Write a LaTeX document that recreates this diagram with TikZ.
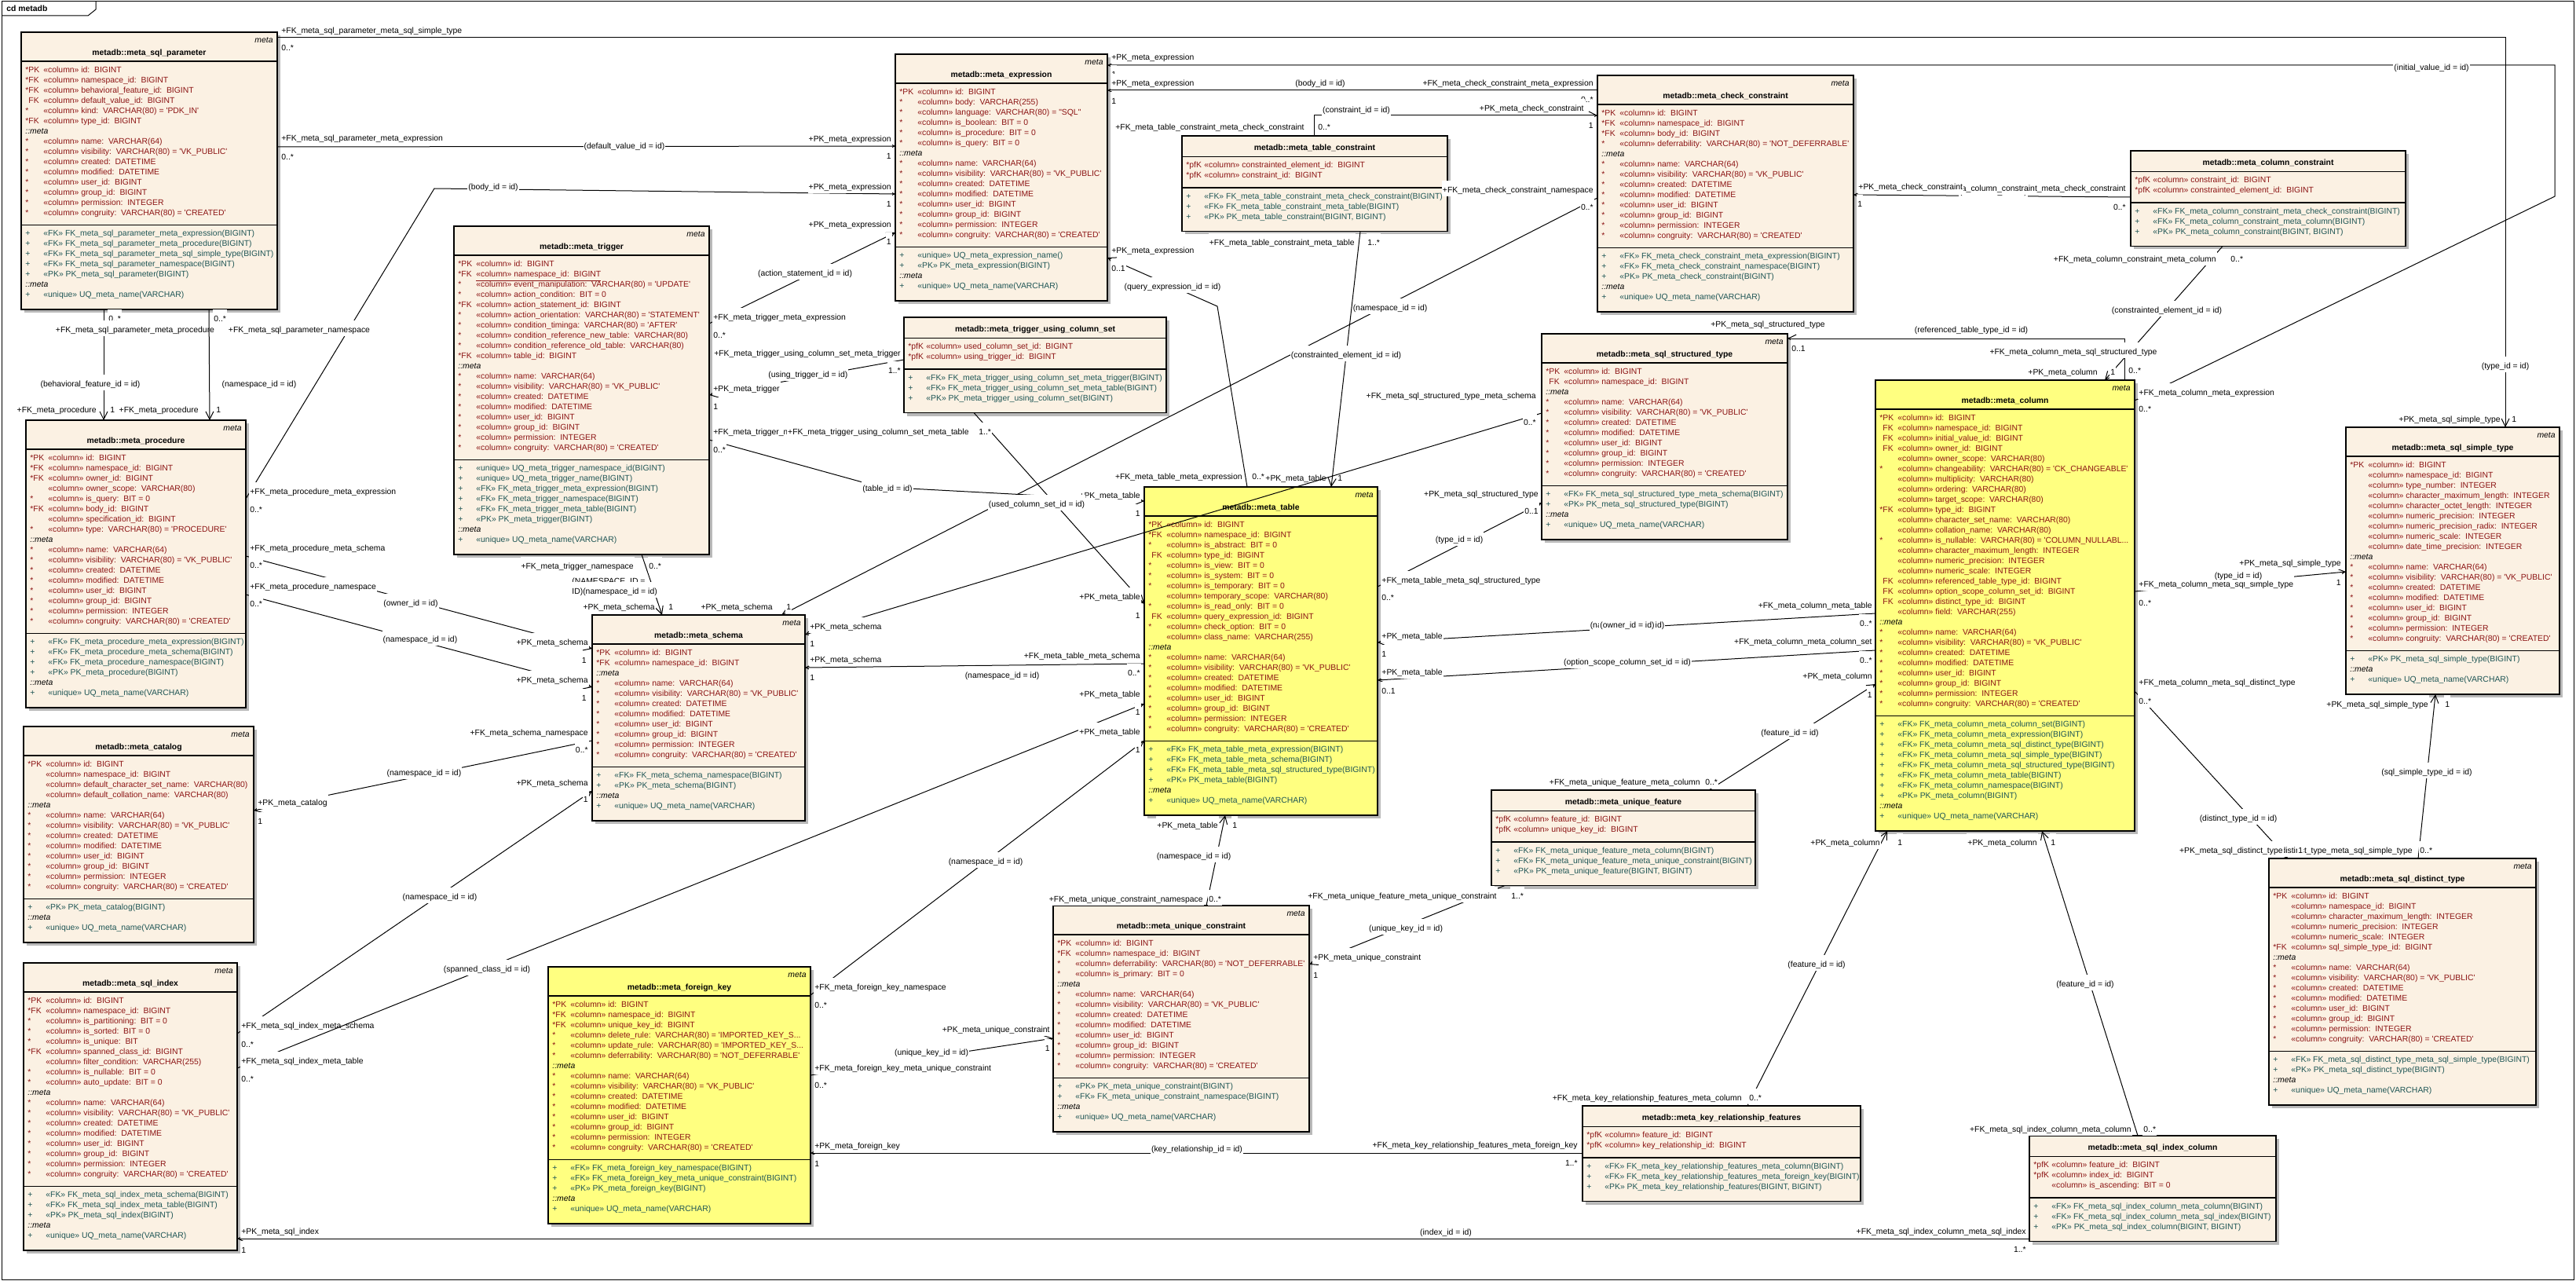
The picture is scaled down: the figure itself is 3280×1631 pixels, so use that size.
\documentclass[tikz,border=0pt]{standalone}
\usepackage{fontspec}
\newfontfamily\dgfont{Liberation Sans}
\usetikzlibrary{arrows.meta}
\pgfdeclarelayer{bg}
\pgfsetlayers{bg,main}
\definecolor{attrc}{RGB}{140,20,20}
\definecolor{methc}{RGB}{30,85,85}
\definecolor{beige}{RGB}{251,241,227}
\definecolor{ylw}{RGB}{255,255,128}
\definecolor{shad}{RGB}{185,185,185}
\newcounter{nn}
\newcommand\ff{\dgfont\fontsize{5.2pt}{6pt}\selectfont}
\tikzset{
 autoname/.code={\stepcounter{nn}\pgfkeysalso{name=nd\arabic{nn}}},
 rowA/.style={autoname,font=\ff, text=attrc, inner sep=0pt, anchor=base west},
 rowM/.style={autoname,font=\ff, text=methc, inner sep=0pt, anchor=base west},
 rowI/.style={autoname,font=\ff\itshape, inner sep=0pt, anchor=base west},
 ttl/.style={autoname,font=\ff\bfseries, inner sep=0pt, anchor=base},
 stereo/.style={autoname,font=\ff\itshape, inner sep=0pt, anchor=base east},
 boxline/.style={line width=0.6pt},
 conn/.style={line width=0.5pt, -{Straight Barb[length=5pt,width=5pt]}},
 lab/.style={autoname,font=\ff, inner sep=0.5pt, fill=white, text height=0.72em, text depth=0.2em},
}
\catcode`\_=12
\newcommand\BB[6]{%
 \xdef\bX{#1}\xdef\bY{#2}\xdef\bW{#3}\xdef\bF{#4}%
 \ifnum#5=1\relax
  \node[stereo] at ({#1+#3-5},{#2+13.7}) {meta};
  \node[ttl] at ({#1+#3/2},{#2+29.7}) {metadb::#6};
  \pgfmathsetmacro\tmp{#2+37}%
 \else
  \node[ttl] at ({#1+#3/2},{#2+18.7}) {metadb::#6};
  \pgfmathsetmacro\tmp{#2+26.5}%
 \fi
 \xdef\hY{\tmp}%
 \draw[boxline] (#1,\hY) -- ({#1+#3},\hY);
 \pgfmathsetmacro\tmp{\hY+10.5}\xdef\cY{\tmp}%
}
\newcommand\A[2]{%
 \node[rowA] at ({\bX+5},{\cY+3.7}) {#1};
 \node[rowA] at ({\bX+28},{\cY+3.7}) {#2};
 \pgfmathsetmacro\tmp{\cY+13}\xdef\cY{\tmp}}
\newcommand\Mth[2]{%
 \node[rowM] at ({\bX+5},{\cY+3.7}) {#1};
 \node[rowM] at ({\bX+28},{\cY+3.7}) {#2};
 \pgfmathsetmacro\tmp{\cY+13}\xdef\cY{\tmp}}
\newcommand\MT{%
 \node[rowI] at ({\bX+5},{\cY+3.7}) {::meta};
 \pgfmathsetmacro\tmp{\cY+13}\xdef\cY{\tmp}}
\newcommand\SEP{%
 \pgfmathsetmacro\tmp{\cY+3}\xdef\sY{\tmp}%
 \draw[boxline] (\bX,\sY) -- ({\bX+\bW},\sY);
 \pgfmathsetmacro\tmp{\sY+10.5}\xdef\cY{\tmp}}
\newcommand\BE[2][0]{%
 \pgfmathsetmacro\tmp{\cY+6+#1}\xdef\bB{\tmp}%
 \pgfmathsetmacro\tmpw{\bW*0.5}\pgfmathsetmacro\tmph{(\bB-\bY)*0.5}%
 \begin{pgfonlayer}{bg}
 \fill[shad] ({\bX+4},{\bY+4}) rectangle ({\bX+\bW+4},{\bB+4});
 \node[draw, line width=0.6pt, fill=\bF, anchor=north west, inner sep=0pt, outer sep=0pt, minimum width=\tmpw pt, minimum height=\tmph pt] (#2) at (\bX,\bY) {};
 \end{pgfonlayer}}
\newcommand\MB{\MT
 \A{*}{«column» name:~~VARCHAR(64)}
 \A{*}{«column» visibility:~~VARCHAR(80) = 'VK_PUBLIC'}
 \A{*}{«column» created:~~DATETIME}
 \A{*}{«column» modified:~~DATETIME}
 \A{*}{«column» user_id:~~BIGINT}
 \A{*}{«column» group_id:~~BIGINT}
 \A{*}{«column» permission:~~INTEGER}
 \A{*}{«column» congruity:~~VARCHAR(80) = 'CREATED'}}
\newcommand\UQ{\MT\Mth{+}{«unique» UQ_meta_name(VARCHAR)}}
\newcommand\LL[4][center]{\node[lab, anchor=#1] at (#2,#3) {#4};}
\newcommand\nf{\phantom{*}FK}
\begin{document}
\begin{tikzpicture}[x=0.5pt,y=-0.5pt]
\useasboundingbox (0,0) rectangle (3280,1631);
\begin{pgfonlayer}{bg}
\fill[white] (0,0) rectangle (3280,1631);
\end{pgfonlayer}
\draw[line width=0.5pt] (2,2) rectangle (3277,1629);
\draw[line width=0.5pt] (2,20) -- (112,20) -- (122,12) -- (122,2);
\node[autoname,font=\ff\bfseries, anchor=base west, inner sep=0pt] at (8,15) {cd metadb};

% ---------- boxes ----------
\BB{27}{41}{326}{beige}{1}{meta_sql_parameter}
\A{*PK}{«column» id:~~BIGINT}
\A{*FK}{«column» namespace_id:~~BIGINT}
\A{*FK}{«column» behavioral_feature_id:~~BIGINT}
\A{\nf}{«column» default_value_id:~~BIGINT}
\A{*}{«column» kind:~~VARCHAR(80) = 'PDK_IN'}
\A{*FK}{«column» type_id:~~BIGINT}
\MB\SEP
\Mth{+}{«FK» FK_meta_sql_parameter_meta_expression(BIGINT)}
\Mth{+}{«FK» FK_meta_sql_parameter_meta_procedure(BIGINT)}
\Mth{+}{«FK» FK_meta_sql_parameter_meta_sql_simple_type(BIGINT)}
\Mth{+}{«FK» FK_meta_sql_parameter_namespace(BIGINT)}
\Mth{+}{«PK» PK_meta_sql_parameter(BIGINT)}
\UQ\BE{param}

\BB{33}{535}{280}{beige}{1}{meta_procedure}
\A{*PK}{«column» id:~~BIGINT}
\A{*FK}{«column» namespace_id:~~BIGINT}
\A{*FK}{«column» owner_id:~~BIGINT}
\A{}{«column» owner_scope:~~VARCHAR(80)}
\A{*}{«column» is_query:~~BIT = 0}
\A{*FK}{«column» body_id:~~BIGINT}
\A{}{«column» specification_id:~~BIGINT}
\A{*}{«column» type:~~VARCHAR(80) = 'PROCEDURE'}
\MB\SEP
\Mth{+}{«FK» FK_meta_procedure_meta_expression(BIGINT)}
\Mth{+}{«FK» FK_meta_procedure_meta_schema(BIGINT)}
\Mth{+}{«FK» FK_meta_procedure_namespace(BIGINT)}
\Mth{+}{«PK» PK_meta_procedure(BIGINT)}
\UQ\BE{proc}

\BB{30}{925}{293}{beige}{1}{meta_catalog}
\A{*PK}{«column» id:~~BIGINT}
\A{}{«column» namespace_id:~~BIGINT}
\A{}{«column» default_character_set_name:~~VARCHAR(80)}
\A{}{«column» default_collation_name:~~VARCHAR(80)}
\MB\SEP
\Mth{+}{«PK» PK_meta_catalog(BIGINT)}
\UQ\BE{catalog}

\BB{30}{1226}{272}{beige}{1}{meta_sql_index}
\A{*PK}{«column» id:~~BIGINT}
\A{*FK}{«column» namespace_id:~~BIGINT}
\A{*}{«column» is_partitioning:~~BIT = 0}
\A{*}{«column» is_sorted:~~BIT = 0}
\A{*}{«column» is_unique:~~BIT}
\A{*FK}{«column» spanned_class_id:~~BIGINT}
\A{}{«column» filter_condition:~~VARCHAR(255)}
\A{*}{«column» is_nullable:~~BIT = 0}
\A{*}{«column» auto_update:~~BIT = 0}
\MB\SEP
\Mth{+}{«FK» FK_meta_sql_index_meta_schema(BIGINT)}
\Mth{+}{«FK» FK_meta_sql_index_meta_table(BIGINT)}
\Mth{+}{«PK» PK_meta_sql_index(BIGINT)}
\UQ\BE{sqlindex}

\BB{578}{288}{325}{beige}{1}{meta_trigger}
\A{*PK}{«column» id:~~BIGINT}
\A{*FK}{\underline{«column» namespace_id:~~BIGINT}}
\A{*}{«column» event_manipulation:~~VARCHAR(80) = 'UPDATE'}
\A{*}{«column» action_condition:~~BIT = 0}
\A{*FK}{«column» action_statement_id:~~BIGINT}
\A{*}{«column» action_orientation:~~VARCHAR(80) = 'STATEMENT'}
\A{*}{«column» condition_timinga:~~VARCHAR(80) = 'AFTER'}
\A{*}{«column» condition_reference_new_table:~~VARCHAR(80)}
\A{*}{«column» condition_reference_old_table:~~VARCHAR(80)}
\A{*FK}{«column» table_id:~~BIGINT}
\MB\SEP
\Mth{+}{«unique» UQ_meta_trigger_namespace_id(BIGINT)}
\Mth{+}{«unique» UQ_meta_trigger_name(BIGINT)}
\Mth{+}{«FK» FK_meta_trigger_meta_expression(BIGINT)}
\Mth{+}{«FK» FK_meta_trigger_namespace(BIGINT)}
\Mth{+}{«FK» FK_meta_trigger_meta_table(BIGINT)}
\Mth{+}{«PK» PK_meta_trigger(BIGINT)}
\UQ\BE{trigger}

\BB{754}{783}{271}{beige}{1}{meta_schema}
\A{*PK}{«column» id:~~BIGINT}
\A{*FK}{«column» namespace_id:~~BIGINT}
\MB\SEP
\Mth{+}{«FK» FK_meta_schema_namespace(BIGINT)}
\Mth{+}{«PK» PK_meta_schema(BIGINT)}
\UQ\BE{schema}

\BB{1140}{69}{270}{beige}{1}{meta_expression}
\A{*PK}{«column» id:~~BIGINT}
\A{*}{«column» body:~~VARCHAR(255)}
\A{*}{«column» language:~~VARCHAR(80) = "SQL"}
\A{*}{«column» is_boolean:~~BIT = 0}
\A{*}{«column» is_procedure:~~BIT = 0}
\A{*}{«column» is_query:~~BIT = 0}
\MB\SEP
\Mth{+}{«unique» UQ_meta_expression_name()}
\Mth{+}{«PK» PK_meta_expression(BIGINT)}
\UQ\BE{expr}

\BB{1151}{404}{334}{beige}{0}{meta_trigger_using_column_set}
\A{*pfK}{«column» used_column_set_id:~~BIGINT}
\A{*pfK}{«column» using_trigger_id:~~BIGINT}
\SEP
\Mth{+}{«FK» FK_meta_trigger_using_column_set_meta_trigger(BIGINT)}
\Mth{+}{«FK» FK_meta_trigger_using_column_set_meta_table(BIGINT)}
\Mth{+}{«PK» PK_meta_trigger_using_column_set(BIGINT)}
\BE{tucs}

\BB{1505}{173}{338}{beige}{0}{meta_table_constraint}
\A{*pfK}{«column» constrainted_element_id:~~BIGINT}
\A{*pfK}{«column» constraint_id:~~BIGINT}
\SEP
\Mth{+}{«FK» FK_meta_table_constraint_meta_check_constraint(BIGINT)}
\Mth{+}{«FK» FK_meta_table_constraint_meta_table(BIGINT)}
\Mth{+}{«PK» PK_meta_table_constraint(BIGINT, BIGINT)}
\BE{tc}

\BB{1457}{620}{297}{ylw}{1}{meta_table}
\A{*PK}{«column» id:~~BIGINT}
\A{*FK}{«column» namespace_id:~~BIGINT}
\A{*}{«column» is_abstract:~~BIT = 0}
\A{\nf}{«column» type_id:~~BIGINT}
\A{*}{«column» is_view:~~BIT = 0}
\A{*}{«column» is_system:~~BIT = 0}
\A{*}{«column» is_temporary:~~BIT = 0}
\A{}{«column» temporary_scope:~~VARCHAR(80)}
\A{*}{«column» is_read_only:~~BIT = 0}
\A{\nf}{«column» query_expression_id:~~BIGINT}
\A{*}{«column» check_option:~~BIT = 0}
\A{}{«column» class_name:~~VARCHAR(255)}
\MB\SEP
\Mth{+}{«FK» FK_meta_table_meta_expression(BIGINT)}
\Mth{+}{«FK» FK_meta_table_meta_schema(BIGINT)}
\Mth{+}{«FK» FK_meta_table_meta_sql_structured_type(BIGINT)}
\Mth{+}{«PK» PK_meta_table(BIGINT)}
\UQ\BE{table}

\BB{698}{1231}{334}{ylw}{1}{meta_foreign_key}
\A{*PK}{«column» id:~~BIGINT}
\A{*FK}{«column» namespace_id:~~BIGINT}
\A{*FK}{«column» unique_key_id:~~BIGINT}
\A{*}{«column» delete_rule:~~VARCHAR(80) = 'IMPORTED_KEY_S...}
\A{*}{«column» update_rule:~~VARCHAR(80) = 'IMPORTED_KEY_S...}
\A{*}{«column» deferrability:~~VARCHAR(80) = 'NOT_DEFERRABLE'}
\MB\SEP
\Mth{+}{«FK» FK_meta_foreign_key_namespace(BIGINT)}
\Mth{+}{«FK» FK_meta_foreign_key_meta_unique_constraint(BIGINT)}
\Mth{+}{«PK» PK_meta_foreign_key(BIGINT)}
\UQ\BE{fk}

\BB{1341}{1153}{326}{beige}{1}{meta_unique_constraint}
\A{*PK}{«column» id:~~BIGINT}
\A{*FK}{«column» namespace_id:~~BIGINT}
\A{*}{«column» deferrability:~~VARCHAR(80) = 'NOT_DEFERRABLE'}
\A{*}{«column» is_primary:~~BIT = 0}
\MB\SEP
\Mth{+}{«PK» PK_meta_unique_constraint(BIGINT)}
\Mth{+}{«FK» FK_meta_unique_constraint_namespace(BIGINT)}
\UQ\BE{uc}

\BB{2034}{96}{326}{beige}{1}{meta_check_constraint}
\A{*PK}{«column» id:~~BIGINT}
\A{*FK}{«column» namespace_id:~~BIGINT}
\A{*FK}{«column» body_id:~~BIGINT}
\A{*}{«column» deferrability:~~VARCHAR(80) = 'NOT_DEFERRABLE'}
\MB\SEP
\Mth{+}{«FK» FK_meta_check_constraint_meta_expression(BIGINT)}
\Mth{+}{«FK» FK_meta_check_constraint_namespace(BIGINT)}
\Mth{+}{«PK» PK_meta_check_constraint(BIGINT)}
\UQ\BE{check}

\BB{2713}{192}{350}{beige}{0}{meta_column_constraint}
\A{*pfK}{«column» constraint_id:~~BIGINT}
\A{*pfK}{«column» constrainted_element_id:~~BIGINT}
\SEP
\Mth{+}{«FK» FK_meta_column_constraint_meta_check_constraint(BIGINT)}
\Mth{+}{«FK» FK_meta_column_constraint_meta_column(BIGINT)}
\Mth{+}{«PK» PK_meta_column_constraint(BIGINT, BIGINT)}
\BE{cc}

\BB{1963}{425}{313}{beige}{1}{meta_sql_structured_type}
\A{*PK}{«column» id:~~BIGINT}
\A{\nf}{«column» namespace_id:~~BIGINT}
\MB\SEP
\Mth{+}{«FK» FK_meta_sql_structured_type_meta_schema(BIGINT)}
\Mth{+}{«PK» PK_meta_sql_structured_type(BIGINT)}
\UQ\BE{struct}

\BB{1899}{1006}{336}{beige}{0}{meta_unique_feature}
\A{*pfK}{«column» feature_id:~~BIGINT}
\A{*pfK}{«column» unique_key_id:~~BIGINT}
\SEP
\Mth{+}{«FK» FK_meta_unique_feature_meta_column(BIGINT)}
\Mth{+}{«FK» FK_meta_unique_feature_meta_unique_constraint(BIGINT)}
\Mth{+}{«PK» PK_meta_unique_feature(BIGINT, BIGINT)}
\BE{uf}

\BB{2015}{1408}{354}{beige}{0}{meta_key_relationship_features}
\A{*pfK}{«column» feature_id:~~BIGINT}
\A{*pfK}{«column» key_relationship_id:~~BIGINT}
\SEP
\Mth{+}{«FK» FK_meta_key_relationship_features_meta_column(BIGINT)}
\Mth{+}{«FK» FK_meta_key_relationship_features_meta_foreign_key(BIGINT)}
\Mth{+}{«PK» PK_meta_key_relationship_features(BIGINT, BIGINT)}
\BE{kr}

\BB{2388}{484}{330}{ylw}{1}{meta_column}
\A{*PK}{«column» id:~~BIGINT}
\A{\nf}{«column» namespace_id:~~BIGINT}
\A{\nf}{«column» initial_value_id:~~BIGINT}
\A{\nf}{«column» owner_id:~~BIGINT}
\A{}{«column» owner_scope:~~VARCHAR(80)}
\A{*}{«column» changeability:~~VARCHAR(80) = 'CK_CHANGEABLE'}
\A{}{«column» multiplicity:~~VARCHAR(80)}
\A{}{«column» ordering:~~VARCHAR(80)}
\A{}{«column» target_scope:~~VARCHAR(80)}
\A{*FK}{«column» type_id:~~BIGINT}
\A{}{«column» character_set_name:~~VARCHAR(80)}
\A{}{«column» collation_name:~~VARCHAR(80)}
\A{*}{«column» is_nullable:~~VARCHAR(80) = 'COLUMN_NULLABL...}
\A{}{«column» character_maximum_length:~~INTEGER}
\A{}{«column» numeric_precision:~~INTEGER}
\A{}{«column» numeric_scale:~~INTEGER}
\A{\nf}{«column» referenced_table_type_id:~~BIGINT}
\A{\nf}{«column» option_scope_column_set_id:~~BIGINT}
\A{\nf}{«column» distinct_type_id:~~BIGINT}
\A{}{«column» field:~~VARCHAR(255)}
\MB\SEP
\Mth{+}{«FK» FK_meta_column_meta_column_set(BIGINT)}
\Mth{+}{«FK» FK_meta_column_meta_expression(BIGINT)}
\Mth{+}{«FK» FK_meta_column_meta_sql_distinct_type(BIGINT)}
\Mth{+}{«FK» FK_meta_column_meta_sql_simple_type(BIGINT)}
\Mth{+}{«FK» FK_meta_column_meta_sql_structured_type(BIGINT)}
\Mth{+}{«FK» FK_meta_column_meta_table(BIGINT)}
\Mth{+}{«FK» FK_meta_column_namespace(BIGINT)}
\Mth{+}{«PK» PK_meta_column(BIGINT)}
\UQ\BE{column}

\BB{2987}{544}{272}{beige}{1}{meta_sql_simple_type}
\A{*PK}{«column» id:~~BIGINT}
\A{}{«column» namespace_id:~~BIGINT}
\A{}{«column» type_number:~~INTEGER}
\A{}{«column» character_maximum_length:~~INTEGER}
\A{}{«column» character_octet_length:~~INTEGER}
\A{}{«column» numeric_precision:~~INTEGER}
\A{}{«column» numeric_precision_radix:~~INTEGER}
\A{}{«column» numeric_scale:~~INTEGER}
\A{}{«column» date_time_precision:~~INTEGER}
\MB\SEP
\Mth{+}{«PK» PK_meta_sql_simple_type(BIGINT)}
\UQ\BE{simple}

\BB{2889}{1093}{340}{beige}{1}{meta_sql_distinct_type}
\A{*PK}{«column» id:~~BIGINT}
\A{}{«column» namespace_id:~~BIGINT}
\A{}{«column» character_maximum_length:~~INTEGER}
\A{}{«column» numeric_precision:~~INTEGER}
\A{}{«column» numeric_scale:~~INTEGER}
\A{*FK}{«column» sql_simple_type_id:~~BIGINT}
\MB\SEP
\Mth{+}{«FK» FK_meta_sql_distinct_type_meta_sql_simple_type(BIGINT)}
\Mth{+}{«PK» PK_meta_sql_distinct_type(BIGINT)}
\UQ\BE{distinct}

\BB{2584}{1446}{314}{beige}{0}{meta_sql_index_column}
\A{*pfK}{«column» feature_id:~~BIGINT}
\A{*pfK}{«column» index_id:~~BIGINT}
\A{}{«column» is_ascending:~~BIT = 0}
\SEP
\Mth{+}{«FK» FK_meta_sql_index_column_meta_column(BIGINT)}
\Mth{+}{«FK» FK_meta_sql_index_column_meta_sql_index(BIGINT)}
\Mth{+}{«PK» PK_meta_sql_index_column(BIGINT, BIGINT)}
\BE{sic}

% ---------- connectors ----------
\draw[conn] (param.east |- 0,48) -- (3190,48) -- (simple.north -| 3190,0);
\LL[west]{357}{37}{+FK_meta_sql_parameter_meta_sql_simple_type}
\LL[west]{357}{59}{0..*}
\LL{3190}{464}{(type_id = id)}
\LL[east]{3185}{532}{+PK_meta_sql_simple_type}
\LL[west]{3197}{532}{1}
\draw[conn] (column.east |- 0,510) -- (3253,250) -- (3253,83) -- (expr.east |- 0,83);
\LL[west]{2722}{498}{+FK_meta_column_meta_expression}
\LL[west]{2722}{519}{0..*}
\LL{3096}{84}{(initial_value_id = id)}
\LL[west]{1414}{71}{+PK_meta_expression}
\LL[west]{1414}{93}{1}
\draw[conn] (check.west |- 0,115) -- (expr.east |- 0,115);
\LL[east]{2030}{104}{+FK_meta_check_constraint_meta_expression}
\LL[east]{2030}{125}{0..*}
\LL{1681}{104}{(body_id = id)}
\LL[west]{1414}{104}{+PK_meta_expression}
\LL[west]{1414}{127}{1}
\draw[conn] (tc.north -| 1673,0) -- (1673,147) -- (check.west |- 0,147);
\LL[east]{1662}{160}{+FK_meta_table_constraint_meta_check_constraint}
\LL[west]{1677}{160}{0..*}
\LL{1727}{138}{(constraint_id = id)}
\LL[east]{2018}{136}{+PK_meta_check_constraint}
\LL[east]{2030}{158}{1}
\draw[conn] (check.west |- 0,252) -- (schema.north -| 995,0);
\LL[east]{2030}{240}{+FK_meta_check_constraint_namespace}
\LL[east]{2030}{262}{0..*}
\LL{1770}{390}{(namespace_id = id)}
\LL[east]{985}{771}{+PK_meta_schema}
\LL[west]{1000}{771}{1}
\draw[conn] (cc.west |- 0,251) -- (check.east |- 0,248);
\LL{2538}{242}{(constraint_id = id)}
\LL[east]{2708}{238}{+FK_meta_column_constraint_meta_check_constraint}
\LL[west]{2365}{236}{+PK_meta_check_constraint}
\LL[east]{2708}{262}{0..*}
\LL[west]{2364}{258}{1}
\draw[conn] (cc.south -| 2830,0) -- (column.north -| 2680,0);
\LL[east]{2823}{328}{+FK_meta_column_constraint_meta_column}
\LL[west]{2839}{328}{0..*}
\LL{2759}{393}{(constrainted_element_id = id)}
\LL[east]{2672}{472}{+PK_meta_column}
\LL[west]{2686}{472}{1}
\draw[conn] (column.north -| 2705,0) -- (2705,431) -- (struct.east |- 0,431);
\LL{2510}{418}{(referenced_table_type_id = id)}
\LL{2251}{411}{+PK_meta_sql_structured_type}
\LL[west]{2280}{442}{0..1}
\LL{2640}{446}{+FK_meta_column_meta_sql_structured_type}
\LL[west]{2709}{470}{0..*}
\draw[conn] (param.east |- 0,187) -- (expr.west |- 0,186);
\LL[west]{357}{174}{+FK_meta_sql_parameter_meta_expression}
\LL[west]{357}{198}{0..*}
\LL{795}{184}{(default_value_id = id)}
\LL[east]{1136}{175}{+PK_meta_expression}
\LL[east]{1136}{197}{1}
\draw[conn] (proc.east |- 0,635) -- (553,240) -- (expr.west |- 0,247);
\LL[west]{317}{624}{+FK_meta_procedure_meta_expression}
\LL[west]{317}{647}{0..*}
\LL{628}{236}{(body_id = id)}
\LL[east]{1136}{236}{+PK_meta_expression}
\LL[east]{1136}{258}{1}
\draw[conn] (trigger.east |- 0,412) -- (expr.west |- 0,296);
\LL[west]{907}{402}{+FK_meta_trigger_meta_expression}
\LL[west]{907}{425}{0..*}
\LL{1025}{346}{(action_statement_id = id)}
\LL[east]{1136}{284}{+PK_meta_expression}
\LL[east]{1136}{306}{1}
\draw[conn] (param.south -| 132,0) -- (proc.north -| 132,0);
\LL[west]{137}{404}{0..*}
\LL{172}{418}{+FK_meta_sql_parameter_meta_procedure}
\LL{115}{487}{(behavioral_feature_id = id)}
\LL[east]{124}{520}{+FK_meta_procedure}
\LL[west]{139}{520}{1}
\draw[conn] (param.south -| 266,0) -- (proc.north -| 267,0);
\LL[west]{271}{404}{0..*}
\LL{381}{418}{+FK_meta_sql_parameter_namespace}
\LL{330}{487}{(namespace_id = id)}
\LL[east]{254}{520}{+FK_meta_procedure}
\LL[west]{274}{520}{1}
\draw[conn] (proc.east |- 0,708) -- (schema.west |- 0,826);
\LL[west]{317}{696}{+FK_meta_procedure_meta_schema}
\LL[west]{317}{718}{0..*}
\LL{523}{766}{(owner_id = id)}
\LL[east]{750}{816}{+PK_meta_schema}
\LL[east]{748}{839}{1}
\draw[conn] (proc.east |- 0,757) -- (schema.west |- 0,875);
\LL[west]{317}{745}{+FK_meta_procedure_namespace}
\LL[west]{317}{767}{0..*}
\LL{535}{812}{(namespace_id = id)}
\LL[east]{750}{864}{+PK_meta_schema}
\LL[east]{748}{887}{1}
\draw[conn] (schema.west |- 0,943) -- (catalog.east |- 0,1032);
\LL[east]{750}{931}{+FK_meta_schema_namespace}
\LL[east]{750}{953}{0..*}
\LL{540}{982}{(namespace_id = id)}
\LL[west]{327}{1020}{+PK_meta_catalog}
\LL[west]{327}{1044}{1}
\draw[conn] (sqlindex.east |- 0,1316) -- (schema.west |- 0,1007);
\LL[west]{306}{1304}{+FK_meta_sql_index_meta_schema}
\LL[west]{306}{1328}{0..*}
\LL{560}{1140}{(namespace_id = id)}
\LL[east]{750}{995}{+PK_meta_schema}
\LL[east]{750}{1016}{1}
\draw[conn] (sqlindex.east |- 0,1360) -- (table.west |- 0,896);
\LL[west]{306}{1349}{+FK_meta_sql_index_meta_table}
\LL[west]{306}{1372}{0..*}
\LL{620}{1232}{(spanned_class_id = id)}
\LL[east]{1453}{882}{+PK_meta_table}
\LL[east]{1453}{905}{1}
\draw[conn] (trigger.south -| 817,0) -- (schema.north -| 843,0);
\LL[east]{808}{719}{+FK_meta_trigger_namespace}
\LL[west]{825}{719}{0..*}
\LL[west]{727}{738}{(NAMESPACE_ID =}
\LL[west]{727}{751}{ID)(namespace_id = id)}
\LL[east]{835}{771}{+PK_meta_schema}
\LL[west]{850}{771}{1}
\draw[conn] (trigger.east |- 0,560) -- (1120,620) -- (table.west |- 0,638);
\LL[west]{907}{548}{+FK_meta_trigger_meta_table}
\LL[west]{907}{571}{0..*}
\LL{1130}{620}{(table_id = id)}
\LL[east]{1453}{629}{+PK_meta_table}
\LL[east]{1453}{652}{1}
\draw[conn] (tucs.west |- 0,458) -- (trigger.east |- 0,503);
\LL[east]{1148}{448}{+FK_meta_trigger_using_column_set_meta_trigger}
\LL[east]{1148}{470}{1..*}
\LL[west]{977}{475}{(using_trigger_id = id)}
\LL[west]{907}{493}{+PK_meta_trigger}
\LL[west]{907}{516}{1}
\draw[conn] (tucs.south -| 1240,0) -- (table.west |- 0,769);
\LL[east]{1235}{548}{+FK_meta_trigger_using_column_set_meta_table}
\LL[west]{1245}{548}{1..*}
\LL{1320}{640}{(used_column_set_id = id)}
\LL[east]{1453}{758}{+PK_meta_table}
\LL[east]{1453}{782}{1}
\draw[conn] (table.north -| 1588,0) -- (1550,390) -- (expr.east |- 0,328);
\LL[east]{1583}{605}{+FK_meta_table_meta_expression}
\LL[west]{1593}{605}{0..*}
\LL{1493}{363}{(query_expression_id = id)}
\LL[west]{1414}{317}{+PK_meta_expression}
\LL[west]{1414}{340}{0..1}
\draw[conn] (tc.south -| 1732,0) -- (table.north -| 1695,0);
\LL[east]{1726}{307}{+FK_meta_table_constraint_meta_table}
\LL[west]{1740}{307}{1..*}
\LL{1714}{450}{(constrainted_element_id = id)}
\LL[east]{1690}{607}{+PK_meta_table}
\LL[west]{1702}{607}{1}
\draw[conn] (table.west |- 0,845) -- (schema.east |- 0,850);
\LL[east]{1453}{833}{+FK_meta_table_meta_schema}
\LL[east]{1453}{855}{0..*}
\LL{1276}{858}{(namespace_id = id)}
\LL[west]{1030}{838}{+PK_meta_schema}
\LL[west]{1030}{861}{1}
\draw[conn] (struct.west |- 0,526) -- (schema.east |- 0,808);
\LL[east]{1957}{502}{+FK_meta_sql_structured_type_meta_schema}
\LL[east]{1957}{536}{0..*}
\LL[west]{1030}{796}{+PK_meta_schema}
\LL[west]{1030}{818}{1}
\draw[conn] (table.east |- 0,747) -- (struct.west |- 0,640);
\LL[west]{1758}{737}{+FK_meta_table_meta_sql_structured_type}
\LL[west]{1758}{759}{0..*}
\LL{1858}{685}{(type_id = id)}
\LL[east]{1960}{627}{+PK_meta_sql_structured_type}
\LL[east]{1960}{649}{0..1}
\draw[conn] (column.west |- 0,781) -- (table.east |- 0,818);
\LL[east]{2385}{769}{+FK_meta_column_meta_table}
\LL[east]{2385}{792}{0..*}
\LL{2072}{794}{(namespace_id = id)}
\LL{2072}{794}{(owner_id = id)}
\LL[west]{1758}{808}{+PK_meta_table}
\LL[west]{1758}{831}{1}
\draw[conn] (column.west |- 0,828) -- (table.east |- 0,866);
\LL[east]{2385}{815}{+FK_meta_column_meta_column_set}
\LL[east]{2385}{839}{0..*}
\LL{2072}{841}{(option_scope_column_set_id = id)}
\LL[west]{1758}{854}{+PK_meta_table}
\LL[west]{1758}{878}{0..1}
\draw[conn] (column.east |- 0,753) -- (simple.west |- 0,728);
\LL[west]{2722}{742}{+FK_meta_column_meta_sql_simple_type}
\LL[west]{2722}{766}{0..*}
\LL{2850}{731}{(type_id = id)}
\LL[east]{2982}{715}{+PK_meta_sql_simple_type}
\LL[east]{2982}{740}{1}
\draw[conn] (column.east |- 0,880) -- (distinct.north -| 2913,0);
\LL[west]{2722}{867}{+FK_meta_column_meta_sql_distinct_type}
\LL[west]{2722}{891}{0..*}
\LL{2850}{1040}{(distinct_type_id = id)}
\draw[conn] (distinct.north -| 3079,0) -- (simple.south -| 3101,0);
\LL[east]{3073}{1081}{+FK_meta_sql_distinct_type_meta_sql_simple_type}
\LL[west]{3080}{1081}{0..*}
\LL[east]{2908}{1081}{+PK_meta_sql_distinct_type}
\LL[west]{2925}{1081}{1}
\LL{3090}{981}{(sql_simple_type_id = id)}
\LL[east]{3093}{895}{+PK_meta_sql_simple_type}
\LL[west]{3112}{895}{1}
\draw[conn] (fk.east |- 0,1267) -- (table.west |- 0,943);
\LL[west]{1036}{1255}{+FK_meta_foreign_key_namespace}
\LL[west]{1036}{1278}{0..*}
\LL{1255}{1095}{(namespace_id = id)}
\LL[east]{1453}{930}{+PK_meta_table}
\LL[east]{1453}{953}{1}
\draw[conn] (fk.east |- 0,1369) -- (uc.west |- 0,1322);
\LL[west]{1036}{1358}{+FK_meta_foreign_key_meta_unique_constraint}
\LL[west]{1036}{1380}{0..*}
\LL{1186}{1338}{(unique_key_id = id)}
\LL[east]{1338}{1309}{+PK_meta_unique_constraint}
\LL[east]{1338}{1333}{1}
\draw[conn] (uc.north -| 1536,0) -- (table.south -| 1560,0);
\LL[east]{1533}{1143}{+FK_meta_unique_constraint_namespace}
\LL[west]{1538}{1143}{0..*}
\LL{1520}{1088}{(namespace_id = id)}
\LL[east]{1552}{1049}{+PK_meta_table}
\LL[west]{1568}{1049}{1}
\draw[conn] (uf.south -| 1916,0) -- (uc.east |- 0,1228);
\LL[east]{1907}{1139}{+FK_meta_unique_feature_meta_unique_constraint}
\LL[west]{1923}{1139}{1..*}
\LL{1790}{1180}{(unique_key_id = id)}
\LL[west]{1671}{1217}{+PK_meta_unique_constraint}
\LL[west]{1671}{1240}{1}
\draw[conn] (uf.north -| 2176,0) -- (column.west |- 0,871);
\LL[east]{2166}{994}{+FK_meta_unique_feature_meta_column}
\LL[west]{2170}{994}{0..*}
\LL{2279}{931}{(feature_id = id)}
\LL[east]{2385}{859}{+PK_meta_column}
\LL[east]{2385}{883}{1}
\draw[conn] (kr.north -| 2225,0) -- (column.south -| 2403,0);
\LL[east]{2219}{1396}{+FK_meta_key_relationship_features_meta_column}
\LL[west]{2226}{1396}{0..*}
\LL{2313}{1226}{(feature_id = id)}
\LL[east]{2395}{1071}{+PK_meta_column}
\LL[west]{2415}{1071}{1}
\draw[conn] (kr.west |- 0,1468) -- (fk.east |- 0,1468);
\LL[east]{2010}{1456}{+FK_meta_key_relationship_features_meta_foreign_key}
\LL[east]{2010}{1479}{1..*}
\LL{1524}{1461}{(key_relationship_id = id)}
\LL[west]{1036}{1457}{+PK_meta_foreign_key}
\LL[west]{1036}{1480}{1}
\draw[conn] (sic.north -| 2722,0) -- (column.south -| 2600,0);
\LL[east]{2715}{1436}{+FK_meta_sql_index_column_meta_column}
\LL[west]{2728}{1436}{0..*}
\LL{2655}{1251}{(feature_id = id)}
\LL[east]{2595}{1071}{+PK_meta_column}
\LL[west]{2610}{1071}{1}
\draw[conn] (sic.west |- 0,1577) -- (sqlindex.east |- 0,1577);
\LL[east]{2581}{1566}{+FK_meta_sql_index_column_meta_sql_index}
\LL[east]{2581}{1589}{1..*}
\LL{1841}{1567}{(index_id = id)}
\LL[west]{306}{1566}{+PK_meta_sql_index}
\LL[west]{306}{1590}{1}
\end{tikzpicture}
\end{document}
